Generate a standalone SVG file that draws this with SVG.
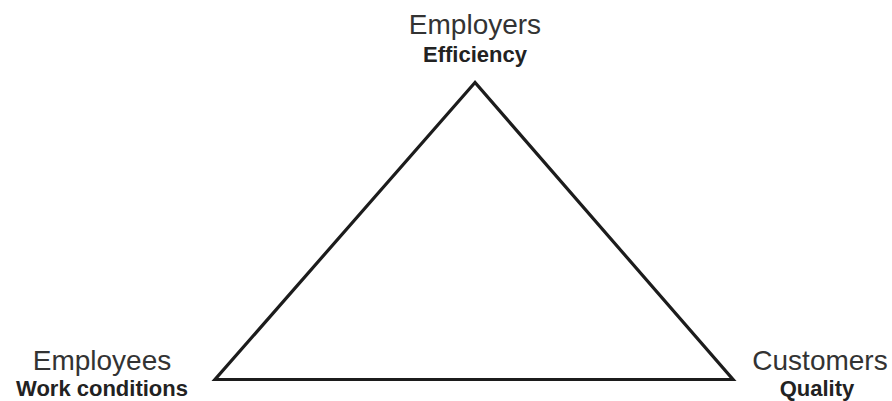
<svg xmlns="http://www.w3.org/2000/svg" width="892" height="401" viewBox="0 0 892 401">
  <style>
    .name { font-family: "Liberation Sans", Arial, sans-serif; font-size: 28px; fill: #333; text-anchor: middle; }
    .goal { font-family: "Liberation Sans", Arial, sans-serif; font-size: 22px; font-weight: bold; fill: #222; text-anchor: middle; }
    .edge { fill: none; stroke: #1c1c1c; stroke-width: 3.2; stroke-linejoin: miter; }
  </style>
  <rect width="892" height="401" fill="#ffffff"/>
  <g id="connectors">
    <polygon class="edge" points="475,82.5 215,379.5 733,379.5"/>
  </g>
  <g id="employers">
    <text class="name" x="475" y="34">Employers</text>
    <text class="goal" x="475" y="62">Efficiency</text>
  </g>
  <g id="employees">
    <text class="name" x="102" y="370">Employees</text>
    <text class="goal" x="102" y="396">Work conditions</text>
  </g>
  <g id="customers">
    <text class="name" x="820" y="370">Customers</text>
    <text class="goal" x="817" y="396">Quality</text>
  </g>
</svg>
